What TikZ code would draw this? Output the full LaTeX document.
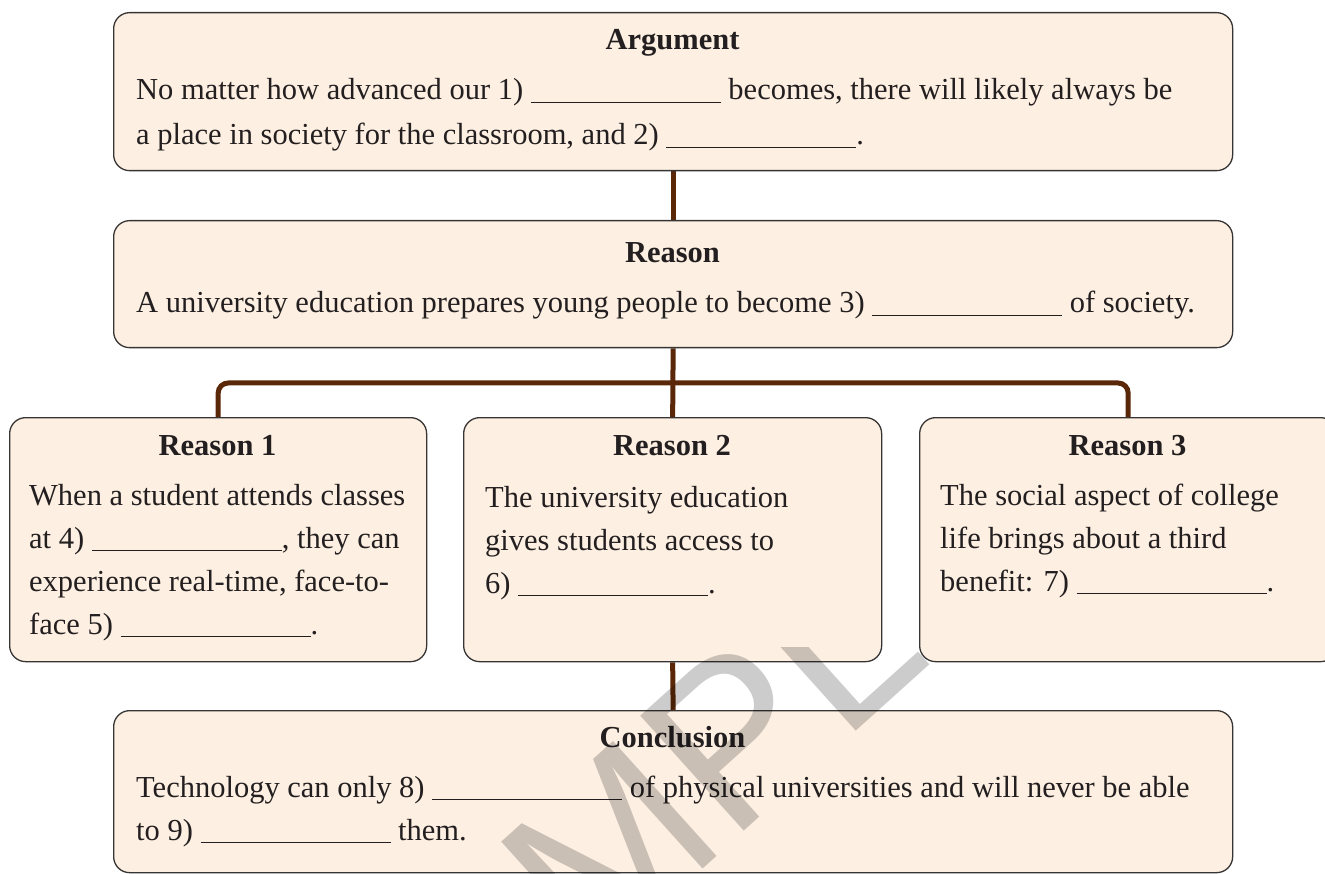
\documentclass[tikz,border=0pt]{standalone}
\usepackage{fontspec}
\setmainfont{Liberation Serif}
\usetikzlibrary{backgrounds}
\newfontfamily\wmfont{Liberation Sans}
\definecolor{boxfill}{RGB}{253,239,225}
\definecolor{boxdraw}{RGB}{55,52,52}
\definecolor{connbrown}{RGB}{90,40,8}
\definecolor{ink}{RGB}{35,31,32}
\newcommand\blank{\rule[-2.5pt]{190pt}{0.9pt}}
\begin{document}
\begin{tikzpicture}[x=1pt,y=-1pt,
  box/.style={draw=boxdraw, line width=1.3pt, fill=boxfill, rounded corners=16pt, anchor=north west, inner sep=0pt},
  ttl/.style={anchor=base, inner sep=0pt, text=ink, font=\fontsize{30.5}{36}\bfseries},
  body/.style={anchor=base west, inner sep=0pt, text=ink, font=\fontsize{30.5}{43}\selectfont},
  connector/.style={draw=connbrown, line width=5pt}]
\useasboundingbox (0,0) rectangle (1325,874);

% boxes
\node[box, minimum width=1119pt, minimum height=158pt] (argbox) at (113,12) {};
\node[box, minimum width=1119pt, minimum height=127pt] (reabox) at (113,220) {};
\node[box, minimum width=417pt, minimum height=244pt] (r1box) at (9,417) {};
\node[box, minimum width=418pt, minimum height=244pt] (r2box) at (463,417) {};
\node[box, minimum width=417pt, minimum height=244pt] (r3box) at (919,417) {};
\node[box, minimum width=1119pt, minimum height=162pt] (conbox) at (113,710) {};

% connectors
\coordinate (bar) at (673,383);
\begin{pgfonlayer}{background}
\draw[connector] (argbox.south) -- (reabox.north);
\draw[connector] (reabox.south) -- (r2box.north);
\draw[connector, rounded corners=10pt] (r1box.north) |- (bar) -| (r3box.north);
\draw[connector] (r2box.south) -- (conbox.north);
\end{pgfonlayer}

% titles
\node[ttl] (argT) at (672.5,50) {Argument};
\node[ttl] (reaT) at (672.5,263) {Reason};
\node[ttl] (r1T) at (217.5,455) {Reason 1};
\node[ttl] (r2T) at (672,455) {Reason 2};
\node[ttl] (r3T) at (1127.5,455) {Reason 3};
\node[ttl] (conT) at (672.5,747) {Conclusion};

% bodies
\node[body, font=\fontsize{30.5}{45}\selectfont] (argB) at (136,100) {\begin{tabular}[t]{@{}l@{}}No matter how advanced our 1) \blank{} becomes, there will likely always be\\a place in society for the classroom, and 2) \blank.\end{tabular}};
\node[body] (reaB) at (136,313) {A university education prepares young people to become 3) \blank{} of society.};
\node[body] (r1B) at (29,505) {\begin{tabular}[t]{@{}l@{}}When a student attends classes\\at 4) \blank, they can\\experience real-time, face-to-\\face 5) \blank.\end{tabular}};
\node[body] (r2B) at (485,507) {\begin{tabular}[t]{@{}l@{}}The university education\\gives students access to\\6) \blank.\end{tabular}};
\node[body] (r3B) at (940,505) {\begin{tabular}[t]{@{}l@{}}The social aspect of college\\life brings about a third\\benefit: 7) \blank.\end{tabular}};
\node[body] (conB) at (136,797) {\begin{tabular}[t]{@{}l@{}}Technology can only 8) \blank{} of physical universities and will never be able\\to 9) \blank{} them.\end{tabular}};

% watermark
\begin{scope}
\clip (0,647) rectangle (1325,874);
\node[anchor=base west, rotate=42, inner sep=0pt, text=black, text opacity=0.2, font=\wmfont\fontsize{225}{225}\selectfont] (wm) at (368,1170) {SAMPLE};
\end{scope}
\end{tikzpicture}
\end{document}
